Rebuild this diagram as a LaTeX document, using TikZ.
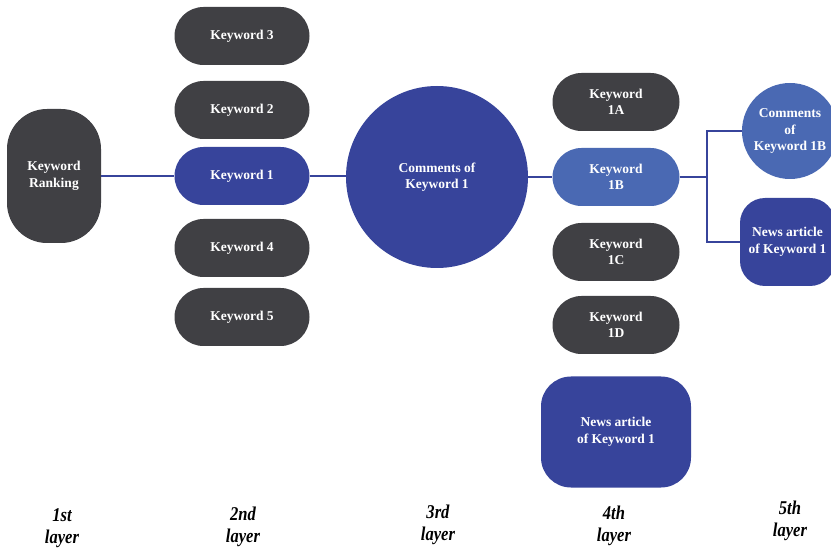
\documentclass[tikz,border=0pt]{standalone}
\usepackage{fontspec}
\setmainfont{Liberation Serif}
\usetikzlibrary{calc}
\definecolor{dgray}{HTML}{404044}
\definecolor{dblue}{HTML}{37449B}
\definecolor{lblue}{HTML}{4A69B3}
\begin{document}
\begin{tikzpicture}[x=1pt,y=-1pt,
  box/.style={draw=none,text=white,font=\fontsize{13.5}{16.5}\selectfont\bfseries,align=center,inner sep=0pt},
  pill/.style={box,rounded corners=29pt,minimum width=135pt,minimum height=58pt},
  pillb/.style={box,rounded corners=29pt,minimum width=127pt,minimum height=58pt},
  circ/.style={box,circle},
  conn/.style={draw=dblue,line width=2pt},
  lay/.style={font=\fontsize{19.5}{22}\selectfont\bfseries\itshape,align=center,xscale=0.85}]
\useasboundingbox (0,0) rectangle (831,548);
\node[box,fill=dgray,rounded corners=40pt,minimum width=94pt,minimum height=134pt] (kr) at (54,176) {Keyword\\Ranking};
\node[pill,fill=dgray] (k3) at (242,36) {Keyword 3};
\node[pill,fill=dgray] (k2) at (242,110) {Keyword 2};
\node[pill,fill=dblue] (k1) at (242,176) {Keyword 1};
\node[pill,fill=dgray] (k4) at (242,248) {Keyword 4};
\node[pill,fill=dgray] (k5) at (242,317) {Keyword 5};
\node[circ,fill=dblue,minimum size=182pt] (c1) at (437,177) {Comments of\\Keyword 1};
\node[pillb,fill=dgray] (k1a) at (616,102) {Keyword\\1A};
\node[pillb,fill=lblue] (k1b) at (616,177) {Keyword\\1B};
\node[pillb,fill=dgray] (k1c) at (616,252) {Keyword\\1C};
\node[pillb,fill=dgray] (k1d) at (616,325) {Keyword\\1D};
\node[box,fill=dblue,rounded corners=30pt,minimum width=150pt,minimum height=111pt] (n4) at (616,432) {News article\\of Keyword 1};
\node[circ,fill=lblue,minimum size=96pt] (c1b) at (790,131) {Comments\\of\\Keyword 1B};
\node[box,fill=dblue,rounded corners=25pt,minimum width=95pt,minimum height=88pt] (n5) at (787.5,242) {News article\\of Keyword 1};
\coordinate (fork) at (707,177);
\draw[conn] (kr.east) -- (k1.west);
\draw[conn] (k1.east) -- (k1.east -| c1.west);
\draw[conn] (c1.east) -- (k1b.west);
\draw[conn] (k1b.east) -- (fork);
\draw[conn] (fork) |- (c1b.west);
\draw[conn] (fork) |- (n5.west);
\node[lay] (l1) at (62,528) {1st\\layer};
\node[lay] (l2) at (243,527) {2nd\\layer};
\node[lay] (l3) at (438,525) {3rd\\layer};
\node[lay] (l4) at (614,526) {4th\\layer};
\node[lay] (l5) at (790,521) {5th\\layer};
\end{tikzpicture}
\end{document}
